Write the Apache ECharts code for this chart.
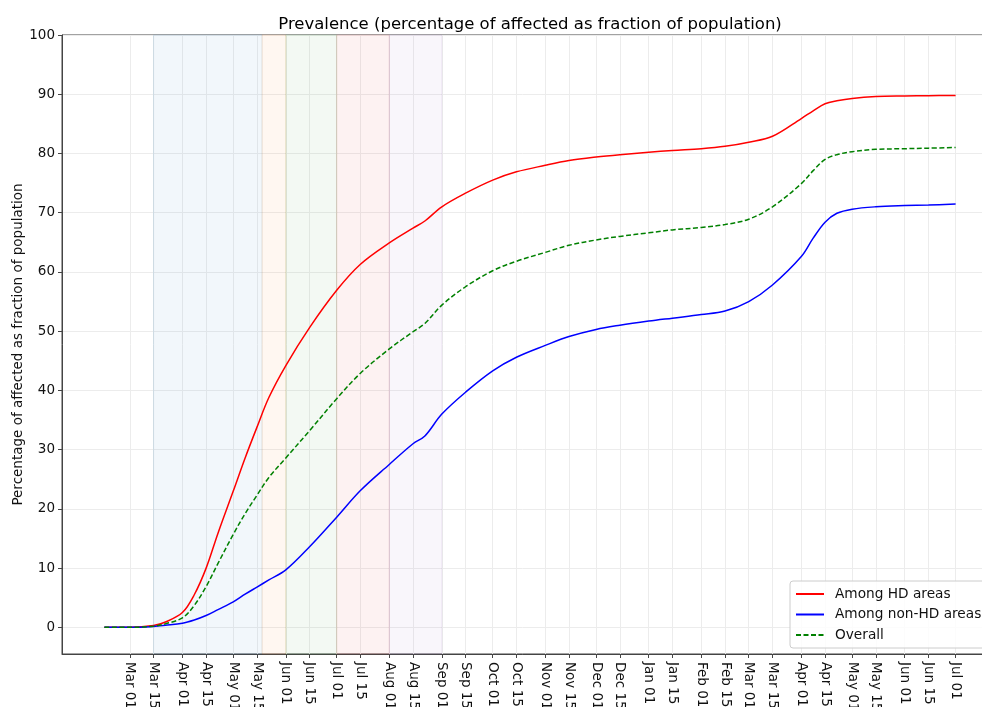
<!DOCTYPE html>
<html>
<head>
<meta charset="utf-8">
<script src="https://cdn.jsdelivr.net/npm/echarts@6/dist/echarts.min.js"></script>
<style>
  html, body { margin: 0; padding: 0; background: #fff; }
  #chart { width: 982px; height: 707px; }
</style>
</head>
<body>
<div id="chart"></div>
<script>
// sample dates
const dates = [
  '2020-02-15', '2020-03-01', '2020-03-15', '2020-03-22', '2020-04-01', '2020-04-08',
  '2020-04-15', '2020-04-22', '2020-05-01', '2020-05-08', '2020-05-15', '2020-05-22',
  '2020-06-01', '2020-06-15', '2020-07-01', '2020-07-15', '2020-08-01', '2020-08-15',
  '2020-08-22', '2020-09-01', '2020-09-15', '2020-10-01', '2020-10-15', '2020-11-01',
  '2020-11-15', '2020-12-01', '2020-12-15', '2021-01-01', '2021-01-15', '2021-02-01',
  '2021-02-15', '2021-03-01', '2021-03-15', '2021-04-01', '2021-04-08', '2021-04-15',
  '2021-04-22', '2021-05-01', '2021-05-15', '2021-06-01', '2021-06-15', '2021-07-01'
]
const hdAreas = [
  0, 0, 0.3, 0.9, 2.5, 5.5,
  10.0, 15.9, 23.0, 28.6, 33.8, 38.8,
  44.2, 50.6, 56.9, 61.3, 64.9, 67.4,
  68.6, 71.0, 73.3, 75.5, 76.9, 78.0,
  78.8, 79.4, 79.8, 80.2, 80.5, 80.8,
  81.2, 81.9, 82.9, 85.9, 87.2, 88.4,
  88.9, 89.3, 89.6, 89.7, 89.75, 89.8
]
const nonHdAreas = [
  0, 0, 0.15, 0.35, 0.7, 1.25,
  2.0, 3.0, 4.3, 5.6, 6.8, 8.0,
  9.7, 13.6, 18.6, 23.1, 27.5, 31.0,
  32.3, 36.0, 39.7, 43.3, 45.6, 47.6,
  49.1, 50.3, 51.0, 51.7, 52.2, 52.8,
  53.4, 55.0, 57.8, 62.6, 65.7, 68.4,
  69.9, 70.6, 71.0, 71.2, 71.3, 71.45
]
const overall = [
  0, 0, 0.2, 0.6, 1.6, 3.7,
  6.9, 10.8, 15.7, 19.2, 22.3, 25.3,
  28.6, 33.2, 38.6, 42.9, 47.0, 49.9,
  51.3, 54.4, 57.5, 60.2, 61.8, 63.3,
  64.5, 65.4, 66.0, 66.6, 67.1, 67.5,
  68.0, 68.9, 71.0, 74.9, 77.1, 79.0,
  79.8, 80.3, 80.7, 80.8, 80.9, 81.0
]
const seriesNames = ['Among HD areas', 'Among non-HD areas', 'Overall']

// x tick positions (1st and 15th of each month)
const tickDates = [
  '2020-03-01', '2020-03-15', '2020-04-01', '2020-04-15', '2020-05-01', '2020-05-15',
  '2020-06-01', '2020-06-15', '2020-07-01', '2020-07-15', '2020-08-01', '2020-08-15',
  '2020-09-01', '2020-09-15', '2020-10-01', '2020-10-15', '2020-11-01', '2020-11-15',
  '2020-12-01', '2020-12-15', '2021-01-01', '2021-01-15', '2021-02-01', '2021-02-15',
  '2021-03-01', '2021-03-15', '2021-04-01', '2021-04-15', '2021-05-01', '2021-05-15',
  '2021-06-01', '2021-06-15', '2021-07-01'
]
const yTicks = [0, 10, 20, 30, 40, 50, 60, 70, 80, 90, 100]

// shaded phases
const phaseStarts = ['2020-03-15', '2020-05-18', '2020-06-01', '2020-07-01', '2020-08-01']
const phaseEnds = ['2020-05-18', '2020-06-01', '2020-07-01', '2020-08-01', '2020-09-01']

const MONTHS = ['Jan', 'Feb', 'Mar', 'Apr', 'May', 'Jun', 'Jul', 'Aug', 'Sep', 'Oct', 'Nov', 'Dec']
const phaseColors = [
  'rgba(31,119,180,0.06)', 'rgba(255,127,14,0.06)', 'rgba(44,160,44,0.06)',
  'rgba(214,39,40,0.06)', 'rgba(148,103,189,0.06)'
]
const phaseEdges = [
  'rgba(31,119,180,0.12)', 'rgba(255,127,14,0.12)', 'rgba(44,160,44,0.12)',
  'rgba(214,39,40,0.12)', 'rgba(148,103,189,0.12)'
]
const lineColors = ['#ff0000', '#0000ff', '#008000']
const FONT = 'DejaVu Sans'

// dates -> utc ms, so a plain value axis can carry them
const ts = s => {
  const [y, m, d] = s.split('-').map(Number)
  return Date.UTC(y, m - 1, d)
}
const zip = vals => dates.map((d, i) => [ts(d), vals[i]])

const chart = echarts.init(document.getElementById('chart'), null, { renderer: 'canvas' })

chart.setOption({
  animation: false,
  backgroundColor: '#fff',
  textStyle: { fontFamily: FONT },
  title: {
    text: 'Prevalence (percentage of affected as fraction of population)',
    left: 530,
    top: 16,
    padding: 0,
    textAlign: 'center',
    textStyle: { fontFamily: FONT, fontSize: 16.5, fontWeight: 'normal', color: '#000' }
  },
  grid: {
    left: 62,
    right: -16,
    top: 35,
    bottom: 53,
    outerBoundsMode: 'none',
    containLabel: false,
    show: true,
    borderColor: '#444',
    borderWidth: 1,
    backgroundColor: 'transparent'
  },
  legend: {
    orient: 'vertical',
    left: 790,
    top: 581,
    padding: [6, 10, 6, 5],
    itemGap: 6.5,
    itemWidth: 28,
    itemHeight: 14,
    itemStyle: { opacity: 0 },
    backgroundColor: 'rgba(255,255,255,0.85)',
    borderColor: '#cccccc',
    borderWidth: 1,
    borderRadius: 3,
    textStyle: { fontFamily: FONT, fontSize: 13.7, color: '#111', padding: [0, 0, 0, 6] },
    data: seriesNames
  },
  xAxis: {
    type: 'value',
    min: ts('2020-01-21'),
    max: ts('2021-07-26'),
    axisLine: { show: true, onZero: false, lineStyle: { color: '#444', width: 1 } },
    axisTick: { show: true, length: 4, customValues: tickDates.map(ts), lineStyle: { color: '#444' } },
    axisLabel: {
      customValues: tickDates.map(ts),
      rotate: -90,
      margin: 8,
      fontFamily: FONT,
      fontSize: 13.5,
      color: '#111',
      formatter: v => {
        const d = new Date(v)
        return MONTHS[d.getUTCMonth()] + ' ' + String(d.getUTCDate()).padStart(2, '0')
      }
    },
    splitLine: { show: true, lineStyle: { color: '#ececec', width: 1 } }
  },
  yAxis: {
    type: 'value',
    min: -4.5,
    max: 100,
    name: 'Percentage of affected as fraction of population',
    nameLocation: 'middle',
    nameGap: 37,
    nameMoveOverlap: false,
    nameTextStyle: { fontFamily: FONT, fontSize: 13.5, color: '#111' },
    axisLine: { show: true, lineStyle: { color: '#444', width: 1 } },
    axisTick: { show: true, length: 4, customValues: yTicks, lineStyle: { color: '#444' } },
    axisLabel: { customValues: yTicks, margin: 7, fontFamily: FONT, fontSize: 13.5, color: '#111' },
    splitLine: { show: true, lineStyle: { color: '#ececec', width: 1 } }
  },
  series: [
    {
      name: seriesNames[0],
      type: 'line',
      data: zip(hdAreas),
      symbol: 'none',
      smooth: 0.35,
      color: lineColors[0],
      lineStyle: { color: lineColors[0], width: 1.5 },
      z: 5,
      markArea: {
        silent: true,
        data: phaseStarts.map((s, i) => [
          { xAxis: ts(s), itemStyle: { color: phaseColors[i], borderColor: phaseEdges[i], borderWidth: 1 } },
          { xAxis: ts(phaseEnds[i]) }
        ])
      }
    },
    {
      name: seriesNames[1],
      type: 'line',
      data: zip(nonHdAreas),
      symbol: 'none',
      smooth: 0.35,
      color: lineColors[1],
      lineStyle: { color: lineColors[1], width: 1.5 },
      z: 5
    },
    {
      name: seriesNames[2],
      type: 'line',
      data: zip(overall),
      symbol: 'none',
      smooth: 0.35,
      color: lineColors[2],
      lineStyle: { color: lineColors[2], width: 1.5, type: [5, 2.5] },
      z: 5
    }
  ]
})
</script>
</body>
</html>
